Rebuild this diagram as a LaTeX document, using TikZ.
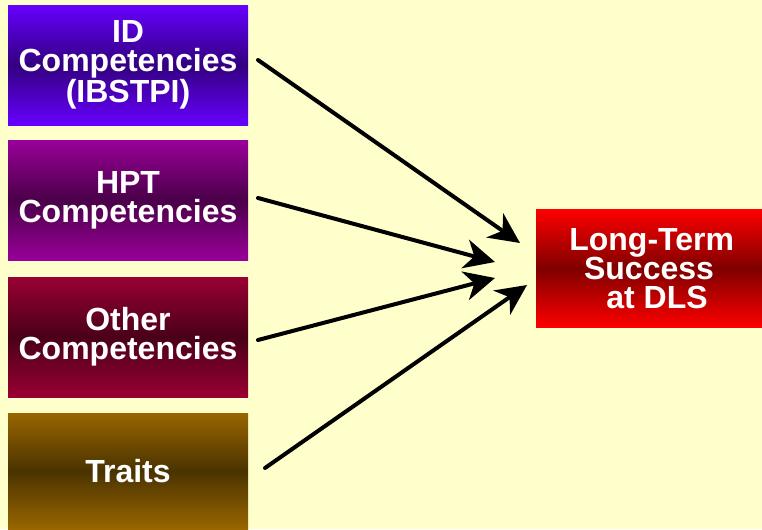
\documentclass[tikz,border=0pt]{standalone}
\usepackage{fontspec}
\setmainfont{Liberation Sans}
\usetikzlibrary{arrows.meta}

\definecolor{paper}{HTML}{FFFFCC}
\definecolor{idtop}{HTML}{6600FF}
\definecolor{idmid}{HTML}{33007F}
\definecolor{hpttop}{HTML}{990099}
\definecolor{hptmid}{HTML}{4A0048}
\definecolor{othtop}{HTML}{990033}
\definecolor{othmid}{HTML}{4A0018}
\definecolor{trttop}{HTML}{996600}
\definecolor{trtmid}{HTML}{4A3300}
\definecolor{lttop}{HTML}{FF0000}
\definecolor{ltmid}{HTML}{7F0000}

\tikzset{
  compbox/.style={minimum width=180pt,minimum height=90pt,inner sep=0pt,
    text=white,align=center,font=\bfseries\fontsize{24}{22}\selectfont},
  link/.style={->,line width=3pt}
}

\begin{document}
\begin{tikzpicture}[line cap=round,line join=round,>={Stealth[length=23pt,width=22pt,inset=7pt]},x=0.75pt,y=-0.75pt]
\fill[paper] (0,0) rectangle (762,529);
\useasboundingbox (0,0) rectangle (762,529);
% left column
\node[compbox,top color=idtop,bottom color=idtop,middle color=idmid] (id) at (128,65) {ID\\Competencies\\(IBSTPI)};
\node[compbox,top color=hpttop,bottom color=hpttop,middle color=hptmid] (hpt) at (128,200) {HPT\\Competencies};
\node[compbox,top color=othtop,bottom color=othtop,middle color=othmid] (other) at (128,337) {Other\\Competencies};
\node[compbox,minimum height=87pt,top color=trttop,bottom color=trttop,middle color=trtmid] (traits) at (128,471) {Traits};
% target
\node[compbox,minimum width=169.5pt,minimum height=89pt,top color=lttop,bottom color=lttop,middle color=ltmid] (dls) at (649,268.5) {\hspace{4pt}Long-Term\\Success\\\hspace{12pt}at DLS};
% arrow ends
\coordinate (idout) at (258,60);
\coordinate (hptout) at (258,198);
\coordinate (otherout) at (258,340);
\coordinate (traitsout) at (265,468);
\coordinate (idin) at (520,243);
\coordinate (hptin) at (495,262);
\coordinate (otherin) at (495,278);
\coordinate (traitsin) at (527,285);
\draw[link] (idout) -- (idin);
\draw[link] (hptout) -- (hptin);
\draw[link] (otherout) -- (otherin);
\draw[link] (traitsout) -- (traitsin);
\end{tikzpicture}
\end{document}
